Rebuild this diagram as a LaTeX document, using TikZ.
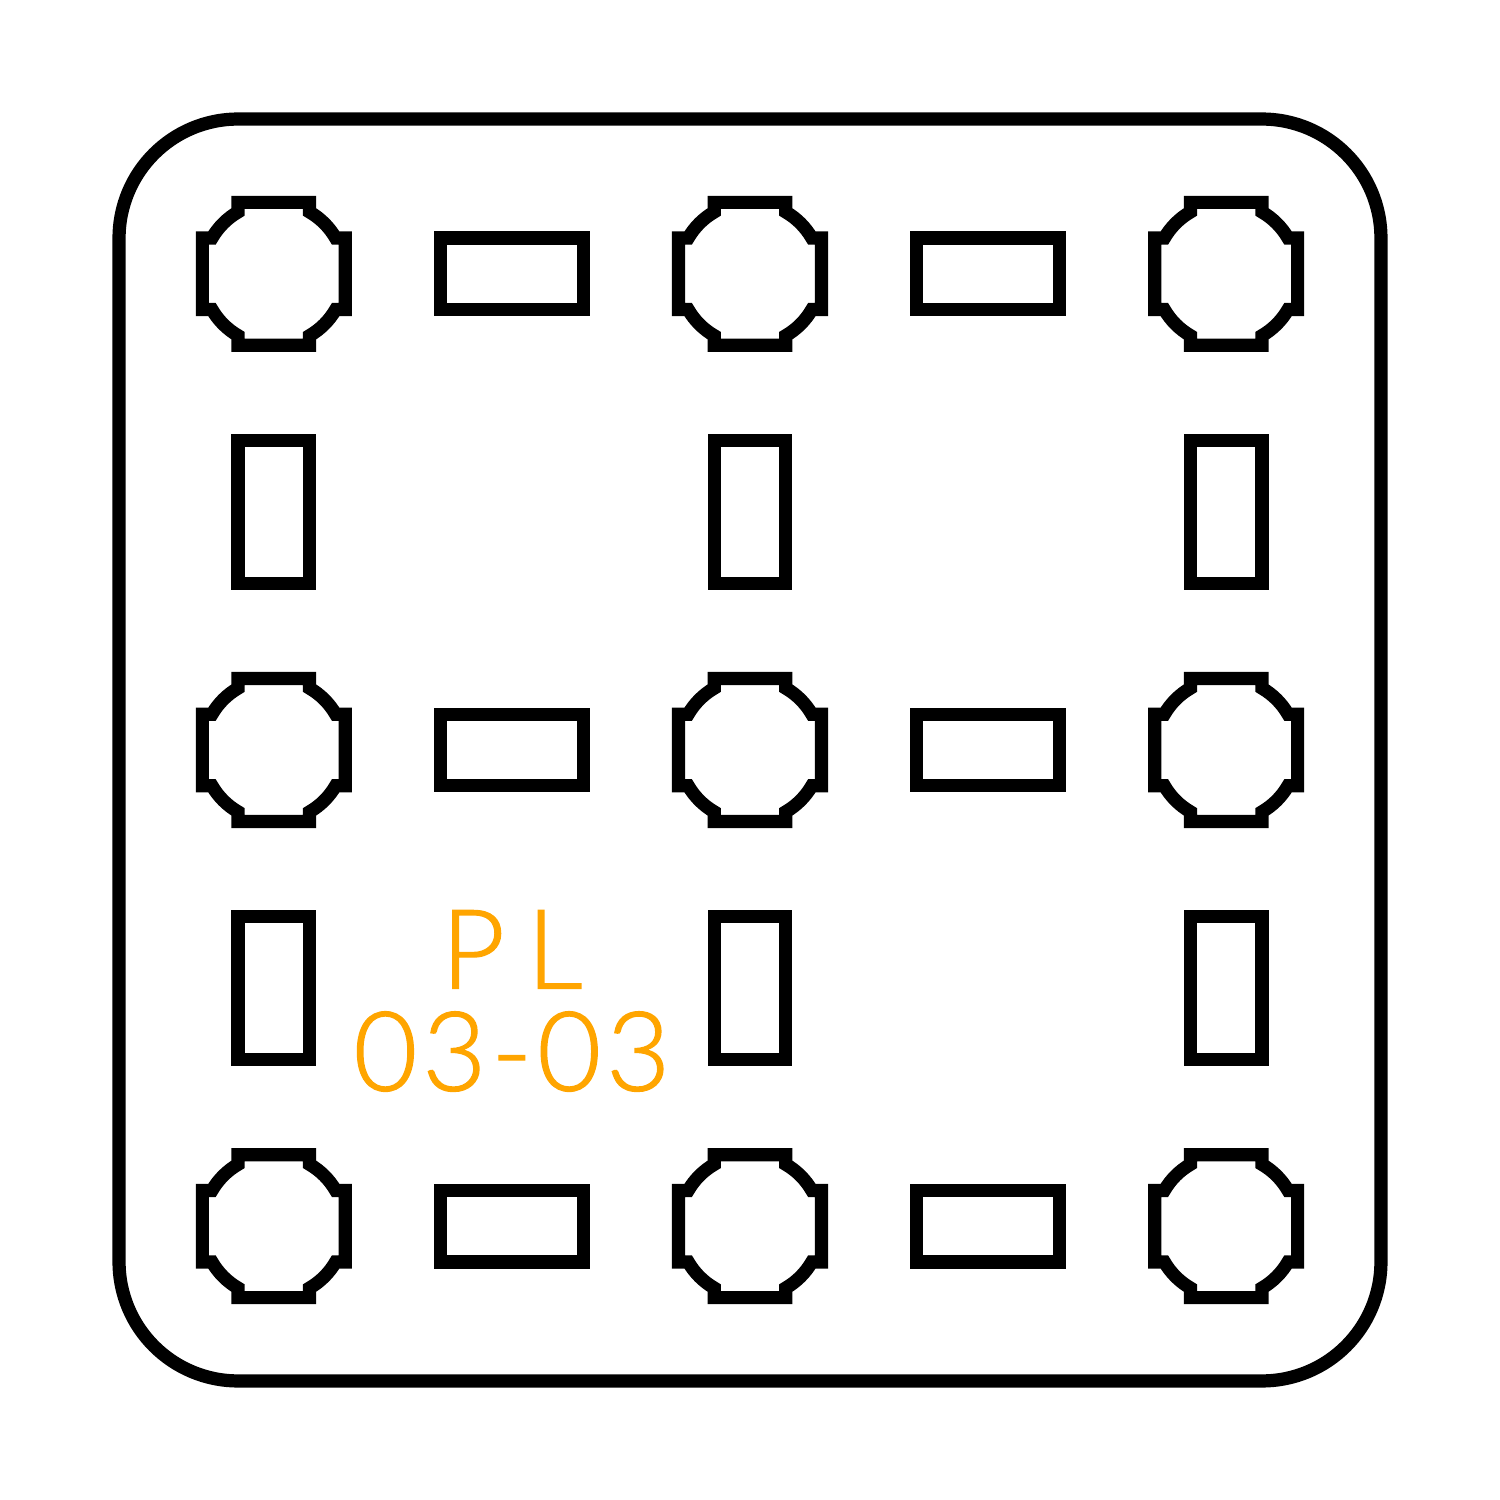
\documentclass[tikz,border=0pt]{standalone}
\usepackage{fontspec}
\usepackage{xcolor}
\usepackage{tikz}
\newfontfamily\platefont[LetterSpace=4.5,RawFeature={embolden=1.2}]{Lato Light}
\definecolor{platelabel}{HTML}{FFA500}

\begin{document}
\begin{tikzpicture}[x=0.25cm, y=0.25cm, line width=3.95pt]
\useasboundingbox (0,0) rectangle (63,63);

% Outer plate
\draw (5,53) arc[start angle=180, end angle=90, radius=5] -- (53,58)
  arc[start angle=90, end angle=0, radius=5] -- (58,10)
  arc[start angle=0, end angle=-90, radius=5] -- (10,5)
  arc[start angle=270, end angle=180, radius=5] -- cycle;

% Round pads
\foreach \x in {11.5,31.5,51.5} {
  \foreach \y in {11.5,31.5,51.5} {
    \draw[shift={(\x,\y)}] (-1.5,3) -- (1.5,3) -- (1.5,2.598)
      arc[start angle=60, end angle=30, radius=3] -- (3,1.5) -- (3,-1.5) -- (2.598,-1.5)
      arc[start angle=-30, end angle=-60, radius=3] -- (1.5,-3) -- (-1.5,-3) -- (-1.5,-2.598)
      arc[start angle=240, end angle=210, radius=3] -- (-3,-1.5) -- (-3,1.5) -- (-2.598,1.5)
      arc[start angle=150, end angle=120, radius=3] -- cycle;
  }
}

% Horizontal slots
\foreach \x in {21.5,41.5} {
  \foreach \y in {11.5,31.5,51.5} {
    \draw (\x-3,\y-1.5) rectangle (\x+3,\y+1.5);
  }
}

% Vertical slots
\foreach \x in {11.5,31.5,51.5} {
  \foreach \y in {21.5,41.5} {
    \draw (\x-1.5,\y-3) rectangle (\x+1.5,\y+3);
  }
}

% Label
\node[text=platelabel, align=center, inner sep=0pt, font=\platefont\fontsize{33}{30.5}\selectfont] (platename) at (21.5,20.96) {P\kern6.5pt L\\03-03};

\end{tikzpicture}
\end{document}
